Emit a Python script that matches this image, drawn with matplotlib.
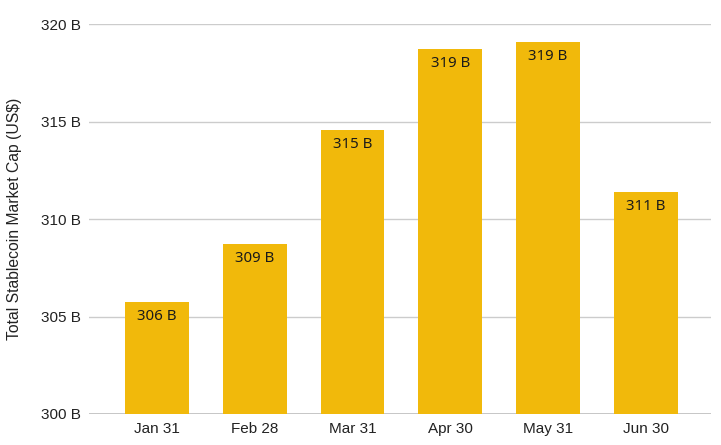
import matplotlib
matplotlib.use('Agg')
import matplotlib.pyplot as plt
import numpy as np

dates = ['Jan 31', 'Feb 28', 'Mar 31', 'Apr 30', 'May 31', 'Jun 30']
caps = [305.75, 308.73, 314.59, 318.73, 319.10, 311.39]  # billions US$
labels = ['306 B', '309 B', '315 B', '319 B', '319 B', '311 B']
yticks = [300, 305, 310, 315, 320]

fig = plt.figure(figsize=(7.21, 4.45), dpi=100)
ax = fig.add_axes([0.1234, 0.0697, 0.8626, 0.8753])

x = np.arange(len(dates))
bars = ax.bar(x, caps, width=0.654, bottom=0, color='#F1B90B', zorder=2)

for i, (v, lab) in enumerate(zip(caps, labels)):
    ax.annotate(lab, (x[i], v), xytext=(0, -10.5), textcoords='offset points',
                ha='center', va='center', fontsize=10.8, color='#1a1a1a',
                family='Noto Sans', zorder=3)

ax.set_ylim(300, 320)
ax.set_xlim(-0.695, 5.665)
ax.set_yticks(yticks)
ax.set_yticklabels([f'{t} B' for t in yticks], family='Liberation Sans', fontsize=11, color='#222222')
ax.set_xticks(x)
ax.set_xticklabels(dates, family='Liberation Sans', fontsize=11, color='#222222')
ax.tick_params(length=0, pad=6)
ax.grid(axis='y', color='#cccccc', linewidth=1, zorder=0)
for s in ax.spines.values():
    s.set_visible(False)
ax.axhline(300, color='#bbbbbb', linewidth=1.2, zorder=1)

ax.set_ylabel('Total Stablecoin Market Cap (US$)', family='Liberation Sans', fontsize=11.3, color='#222222')
ax.yaxis.set_label_coords(-0.107, 0.5)

fig.savefig('out.png', dpi=100)
